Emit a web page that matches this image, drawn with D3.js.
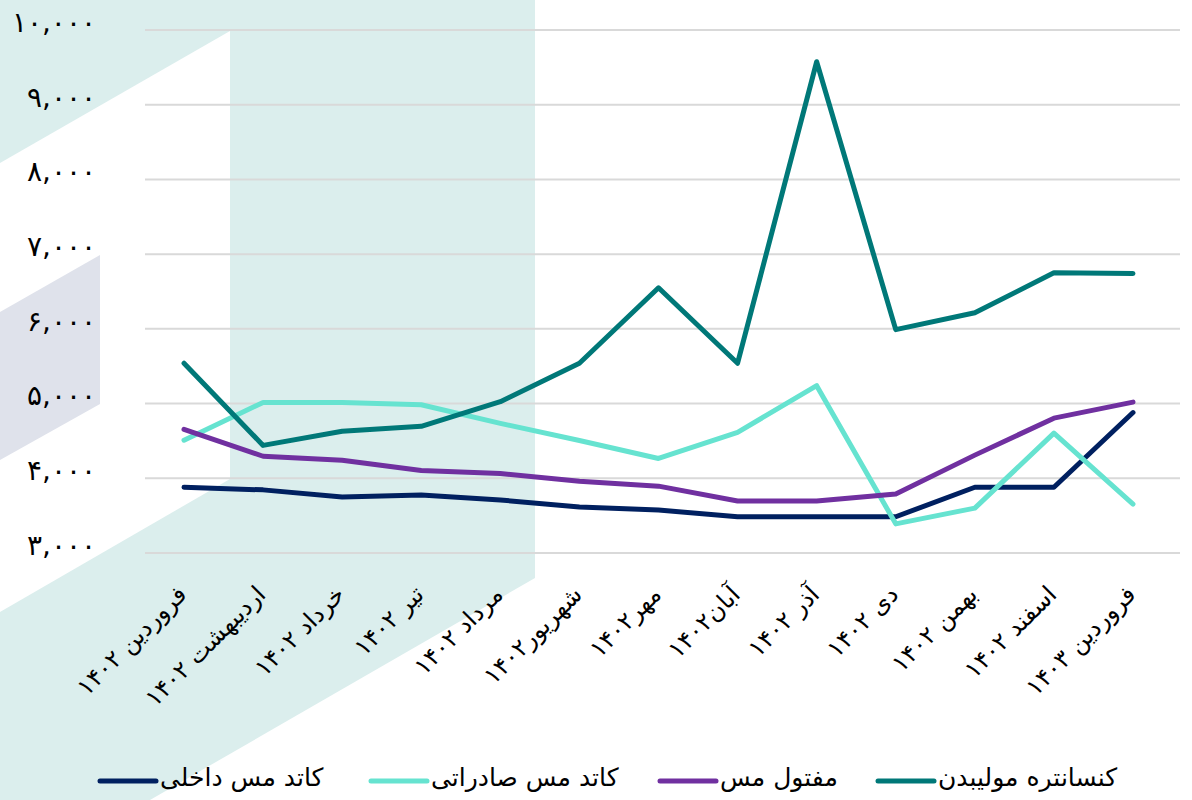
<!DOCTYPE html>
<html>
<head>
<meta charset="utf-8">
<script src="https://cdn.jsdelivr.net/npm/d3@7"></script>
<style>
  body { margin: 0; background: #fff; }
  text { font-family: "DejaVu Sans", sans-serif; fill: #000; }
</style>
</head>
<body>
<script>
// months on the x axis
var months = ["فروردین ۱۴۰۲", "اردیبهشت ۱۴۰۲", "خرداد ۱۴۰۲", "تیر ۱۴۰۲", "مرداد ۱۴۰۲",
  "شهریور۱۴۰۲", "مهر۱۴۰۲", "آبان۱۴۰۲", "آذر ۱۴۰۲", "دی ۱۴۰۲", "بهمن ۱۴۰۲",
  "اسفند  ۱۴۰۲", "فروردین  ۱۴۰۳"];

var seriesNames = ["کاتد مس داخلی", "کاتد مس صادراتی", "مفتول مس", "کنسانتره مولیبدن"];
var seriesColors = ["#002060", "#66e3d0", "#7030a0", "#007878"];

var cathodeDomestic = [3880, 3845, 3750, 3775, 3710, 3615, 3575, 3485, 3485, 3485, 3880, 3880, 4880];
var cathodeExport   = [4510, 5015, 5015, 4985, 4735, 4505, 4265, 4615, 5240, 3390, 3600, 4605, 3655];
var copperWire      = [4655, 4295, 4240, 4105, 4065, 3960, 3895, 3695, 3695, 3790, 4310, 4805, 5020];
var molyConc        = [5540, 4440, 4630, 4695, 5025, 5540, 6550, 5540, 9575, 5990, 6215, 6750, 6740];

var yTicks = [3000, 4000, 5000, 6000, 7000, 8000, 9000, 10000];

var width = 1192, height = 800;
var svg = d3.select("body").append("svg")
  .attr("width", width)
  .attr("height", height);

// background decoration
var bg = svg.append("g");
bg.append("path")
  .attr("d", "M0,0 L535,0 L535,578 L150,800 L0,800 Z")
  .attr("fill", "#dbeeed");
bg.append("path")
  .attr("d", "M0,163 L230,31 L230,479 L0,612 Z")
  .attr("fill", "#ffffff");
bg.append("path")
  .attr("d", "M0,312 L100,255 L100,404 L0,460 Z")
  .attr("fill", "#dfe2eb");

var x = d3.scalePoint().domain(months).range([184, 1133]);
var y = d3.scaleLinear().domain([3000, 10000]).range([553, 30]);

function persian(s) {
  return s.replace(/[0-9]/g, function(c) { return "۰۱۲۳۴۵۶۷۸۹"[+c]; });
}
var fmt = d3.format(",");

// grid lines
svg.append("g")
  .selectAll("line")
  .data(yTicks)
  .enter()
  .append("line")
  .attr("x1", 145)
  .attr("x2", 1180)
  .attr("y1", function(d) { return y(d); })
  .attr("y2", function(d) { return y(d); })
  .attr("stroke", "#d9d9d9")
  .attr("stroke-width", 2);

// y labels
svg.append("g")
  .selectAll("text")
  .data(yTicks)
  .enter()
  .append("text")
  .attr("x", 96)
  .attr("y", function(d) { return y(d) - 8; })
  .attr("dy", "0.35em")
  .attr("text-anchor", "end")
  .attr("font-size", 28)
  .text(function(d) { return persian(fmt(d)); });

// x labels, rotated
svg.append("g")
  .selectAll("text")
  .data(months)
  .enter()
  .append("text")
  .attr("transform", function(d) { return "translate(" + (x(d) + 4) + ",596) rotate(-45)"; })
  .attr("text-anchor", "end")
  .attr("font-size", 24)
  .text(function(d) { return d; });

var series = [cathodeDomestic, cathodeExport, copperWire, molyConc];
var line = d3.line()
  .x(function(d, i) { return x(months[i]); })
  .y(function(d) { return y(d); });

svg.append("g")
  .selectAll("path")
  .data(series)
  .enter()
  .append("path")
  .attr("d", line)
  .attr("fill", "none")
  .attr("stroke", function(d, i) { return seriesColors[i]; })
  .attr("stroke-width", 5)
  .attr("stroke-linejoin", "round")
  .attr("stroke-linecap", "round");

// legend
var legendX = [100, 371, 660, 878];
var leg = svg.append("g")
  .selectAll("g")
  .data(seriesNames)
  .enter()
  .append("g")
  .attr("transform", function(d, i) { return "translate(" + legendX[i] + ",781)"; });
leg.append("line")
  .attr("x1", 0).attr("x2", 56)
  .attr("stroke", function(d, i) { return seriesColors[i]; })
  .attr("stroke-width", 5)
  .attr("stroke-linecap", "round");
leg.append("text")
  .attr("x", 60)
  .attr("y", 0)
  .attr("dy", "0.2em")
  .attr("font-size", 25)
  .text(function(d) { return d; });
</script>
</body>
</html>
